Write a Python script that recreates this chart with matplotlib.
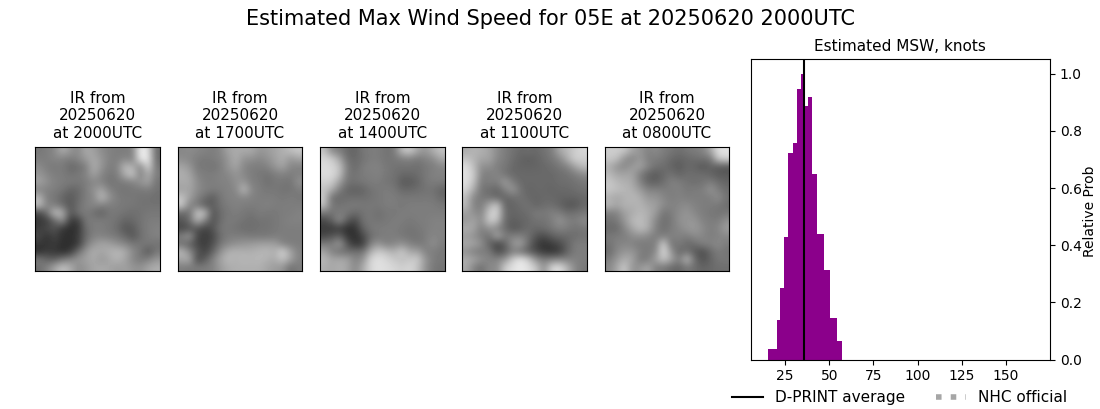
import matplotlib
matplotlib.use('Agg')
import numpy as np
import matplotlib.pyplot as plt

# histogram of estimated MSW
edges = [15.4, 20.5, 22.2, 24.4, 26.7, 29.5, 31.8, 34.0, 35.7, 38.0, 40.3, 43.1, 47.1, 50.5, 54.4, 57.3]
probs = [0.036, 0.138, 0.249, 0.428, 0.721, 0.756, 0.945, 1.0, 0.886, 0.917, 0.648, 0.438, 0.312, 0.145, 0.064]
dprint_avg = 35.7

dates = ['20250620'] * 5
times = ['2000UTC', '1700UTC', '1400UTC', '1100UTC', '0800UTC']
xticks = [25, 50, 75, 100, 125, 150]
yticks = [0.0, 0.2, 0.4, 0.6, 0.8, 1.0]

# coarse grey levels of each IR image, estimated by eye
ir_2000 = [
    [120, 125, 135, 175, 150, 135, 170, 160, 140, 130, 125, 125, 130, 240, 225, 105],
    [125, 125, 135, 130, 125, 135, 155, 170, 150, 130, 125, 135, 125, 240, 235, 105],
    [140, 125, 120, 125, 105, 110, 125, 175, 150, 125, 130, 185, 175, 130, 220, 115],
    [150, 135, 125, 125, 115, 120, 130, 165, 135, 120, 125, 175, 205, 125, 175, 125],
    [165, 145, 130, 125, 125, 120, 125, 135, 130, 115, 120, 125, 130, 150, 165, 115],
    [130, 130, 125, 120, 100, 105, 125, 145, 165, 130, 120, 115, 120, 120, 125, 115],
    [185, 125, 120, 100, 90, 105, 125, 135, 190, 150, 125, 120, 120, 115, 115, 110],
    [195, 135, 125, 110, 85, 110, 130, 135, 130, 125, 125, 120, 120, 115, 115, 115],
    [70, 110, 195, 180, 85, 115, 125, 110, 95, 120, 120, 115, 110, 115, 120, 120],
    [55, 60, 100, 150, 60, 60, 120, 125, 125, 120, 115, 100, 105, 115, 125, 125],
    [60, 75, 85, 55, 45, 50, 110, 125, 125, 120, 110, 85, 90, 115, 125, 130],
    [75, 50, 70, 50, 45, 60, 105, 130, 130, 125, 120, 105, 85, 110, 125, 130],
    [55, 50, 60, 45, 45, 55, 120, 150, 165, 160, 145, 135, 120, 120, 120, 115],
    [45, 60, 55, 45, 55, 110, 150, 175, 165, 175, 185, 175, 140, 120, 85, 120],
    [125, 100, 95, 120, 135, 150, 160, 170, 150, 165, 180, 165, 135, 120, 130, 150],
    [110, 130, 165, 195, 175, 140, 150, 165, 170, 165, 155, 160, 150, 145, 165, 175],
]
ir_1700 = [
    [135, 140, 135, 130, 125, 135, 165, 170, 170, 170, 150, 155, 165, 175, 190, 200],
    [140, 135, 125, 120, 125, 130, 150, 175, 145, 145, 135, 145, 160, 175, 150, 165],
    [165, 150, 120, 120, 115, 125, 150, 165, 135, 125, 125, 130, 150, 165, 135, 130],
    [175, 165, 130, 125, 125, 130, 135, 150, 135, 125, 120, 115, 125, 130, 125, 130],
    [170, 170, 140, 125, 125, 130, 130, 145, 150, 125, 125, 110, 120, 120, 115, 145],
    [160, 165, 140, 130, 125, 125, 130, 135, 190, 135, 125, 120, 120, 115, 115, 125],
    [195, 160, 130, 110, 90, 120, 130, 130, 135, 130, 125, 125, 125, 120, 125, 120],
    [205, 130, 120, 90, 95, 115, 125, 130, 125, 125, 125, 130, 125, 125, 125, 125],
    [105, 110, 205, 190, 80, 110, 120, 125, 120, 115, 125, 120, 120, 125, 125, 130],
    [85, 110, 180, 130, 80, 110, 125, 120, 115, 110, 115, 115, 120, 125, 130, 130],
    [70, 80, 85, 65, 85, 120, 120, 115, 110, 110, 115, 115, 120, 125, 125, 125],
    [130, 160, 70, 60, 70, 110, 125, 125, 125, 120, 120, 120, 125, 125, 125, 125],
    [110, 95, 70, 60, 80, 120, 135, 145, 150, 155, 160, 160, 160, 130, 125, 125],
    [185, 140, 90, 65, 100, 145, 175, 180, 175, 175, 180, 185, 175, 215, 165, 130],
    [165, 175, 70, 95, 130, 165, 185, 175, 185, 180, 185, 175, 170, 195, 165, 130],
    [125, 120, 125, 125, 130, 155, 170, 175, 175, 175, 175, 165, 155, 150, 110, 125],
]
ir_1400 = [
    [195, 135, 125, 105, 100, 120, 125, 125, 115, 120, 190, 205, 165, 150, 175, 195],
    [215, 205, 165, 110, 105, 115, 125, 125, 115, 120, 125, 130, 120, 130, 140, 170],
    [220, 215, 195, 125, 105, 125, 130, 130, 120, 115, 115, 115, 110, 120, 125, 135],
    [220, 220, 195, 120, 115, 125, 125, 130, 120, 115, 105, 105, 110, 120, 130, 130],
    [210, 205, 160, 115, 115, 120, 125, 125, 115, 115, 90, 90, 100, 120, 125, 125],
    [195, 175, 125, 100, 95, 100, 115, 120, 125, 120, 105, 105, 110, 115, 115, 100],
    [205, 110, 105, 110, 110, 110, 115, 120, 125, 125, 120, 120, 120, 120, 120, 105],
    [195, 120, 115, 120, 125, 120, 120, 120, 125, 125, 120, 125, 125, 125, 125, 120],
    [120, 115, 125, 120, 105, 115, 120, 110, 120, 120, 125, 125, 125, 125, 125, 125],
    [70, 95, 145, 90, 70, 115, 120, 115, 120, 125, 125, 120, 125, 125, 130, 130],
    [60, 55, 60, 45, 50, 100, 120, 125, 125, 125, 120, 115, 120, 125, 130, 130],
    [70, 85, 100, 55, 45, 70, 110, 120, 125, 125, 120, 115, 115, 125, 135, 130],
    [125, 125, 160, 85, 50, 60, 130, 150, 125, 135, 145, 130, 120, 125, 145, 125],
    [165, 130, 110, 110, 115, 115, 175, 205, 190, 175, 205, 165, 165, 130, 125, 120],
    [185, 165, 170, 165, 130, 145, 215, 225, 215, 200, 190, 200, 205, 150, 125, 120],
    [175, 165, 175, 165, 135, 170, 215, 225, 220, 215, 205, 215, 195, 145, 120, 115],
]
ir_1100 = [
    [170, 180, 175, 165, 140, 125, 115, 105, 110, 105, 115, 125, 170, 185, 205, 215],
    [195, 180, 165, 165, 135, 125, 110, 100, 95, 100, 110, 120, 135, 175, 210, 205],
    [225, 190, 140, 145, 125, 120, 105, 100, 100, 100, 105, 110, 120, 130, 165, 190],
    [225, 205, 130, 125, 135, 115, 105, 105, 105, 105, 105, 105, 110, 115, 125, 140],
    [225, 195, 120, 130, 125, 160, 125, 105, 105, 105, 105, 105, 110, 110, 115, 120],
    [215, 170, 115, 110, 100, 130, 155, 115, 100, 105, 105, 100, 105, 105, 110, 115],
    [190, 135, 120, 115, 100, 100, 110, 115, 105, 100, 105, 105, 100, 100, 100, 105],
    [190, 130, 125, 170, 205, 100, 100, 110, 115, 100, 110, 110, 100, 85, 85, 105],
    [160, 145, 130, 205, 215, 110, 100, 105, 110, 125, 120, 130, 125, 110, 115, 120],
    [150, 165, 140, 205, 195, 105, 95, 100, 105, 115, 115, 125, 150, 130, 125, 140],
    [175, 165, 125, 150, 130, 110, 85, 95, 110, 105, 110, 120, 130, 125, 115, 120],
    [155, 145, 125, 110, 175, 125, 130, 130, 115, 85, 75, 95, 105, 105, 110, 115],
    [170, 165, 145, 100, 65, 95, 150, 165, 110, 65, 50, 60, 75, 100, 125, 125],
    [145, 125, 120, 125, 75, 90, 125, 110, 90, 75, 55, 50, 60, 100, 125, 125],
    [175, 165, 145, 130, 135, 150, 205, 235, 205, 145, 125, 130, 135, 130, 130, 125],
    [170, 130, 110, 140, 135, 205, 225, 235, 225, 200, 140, 215, 225, 180, 135, 120],
]
ir_0800 = [
    [205, 205, 200, 165, 150, 130, 140, 125, 120, 110, 120, 125, 130, 165, 225, 225],
    [200, 195, 145, 130, 155, 125, 125, 120, 105, 100, 105, 110, 115, 115, 205, 215],
    [175, 145, 135, 155, 165, 135, 115, 110, 100, 90, 105, 100, 85, 100, 90, 85],
    [185, 165, 165, 165, 125, 100, 90, 105, 115, 100, 110, 110, 110, 100, 90, 90],
    [200, 185, 175, 170, 130, 100, 95, 110, 130, 125, 115, 110, 115, 125, 110, 100],
    [200, 190, 185, 175, 155, 130, 130, 125, 125, 130, 120, 125, 125, 150, 125, 110],
    [175, 165, 175, 185, 175, 150, 150, 135, 125, 130, 125, 125, 125, 125, 145, 115],
    [185, 165, 180, 175, 180, 165, 160, 140, 130, 135, 140, 130, 125, 125, 120, 110],
    [125, 130, 160, 170, 185, 175, 155, 115, 125, 140, 150, 135, 125, 120, 115, 120],
    [115, 120, 150, 185, 190, 175, 135, 110, 120, 145, 150, 150, 130, 125, 125, 145],
    [105, 105, 135, 165, 190, 175, 130, 110, 125, 135, 150, 155, 140, 125, 135, 160],
    [120, 125, 125, 140, 145, 135, 125, 125, 130, 130, 125, 140, 135, 125, 130, 135],
    [115, 130, 135, 130, 120, 125, 125, 215, 110, 125, 105, 110, 130, 130, 140, 125],
    [105, 135, 150, 150, 130, 120, 135, 225, 150, 100, 115, 90, 75, 105, 125, 115],
    [125, 150, 175, 165, 120, 125, 160, 200, 165, 125, 195, 110, 80, 100, 120, 120],
    [135, 165, 205, 145, 150, 170, 125, 120, 105, 100, 120, 110, 100, 105, 110, 110],
]
images = [ir_2000, ir_1700, ir_1400, ir_1100, ir_0800]

W, H = 1100.0, 409.0
panels_x = [(35, 160), (178, 302), (320, 445), (462, 587), (605, 729)]
panel_top, panel_bot = 147, 271


def px_axes(fig, x0, x1, top, bot):
    # axes from pixel box
    return fig.add_axes([x0 / W, 1 - bot / H, (x1 - x0) / W, (bot - top) / H])


fig = plt.figure(figsize=(11, 4.09), dpi=100)
fig.suptitle('Estimated Max Wind Speed for 05E at 20250620 2000UTC', fontsize=15, x=0.5, y=0.978)

for (x0, x1), img, d, t in zip(panels_x, images, dates, times):
    ax = px_axes(fig, x0, x1, panel_top, panel_bot)
    ax.imshow(np.array(img), cmap='gray', vmin=0, vmax=255, aspect='auto', interpolation='bicubic')
    ax.set_xticks([])
    ax.set_yticks([])
    ax.set_title('IR from\n{}\nat {}'.format(d, t), fontsize=11, pad=6.6)

ax = px_axes(fig, 750.5, 1050, 59.3, 359.6)
ax.stairs(probs, edges, fill=True, color='darkmagenta')
ax.axvline(dprint_avg, color='k', lw=1.5, label='D-PRINT average')
ax.plot([], [], color='gray', alpha=0.7, lw=4, ls=':', label='NHC official')
ax.set_xlim(5.4, 174.9)
ax.set_ylim(0, 1.05)
ax.set_xticks(xticks)
ax.set_yticks(yticks)
ax.yaxis.tick_right()
ax.yaxis.set_label_position('right')
ax.set_ylabel('Relative Prob', labelpad=1.2, y=0.494)
ax.set_title('Estimated MSW, knots', fontsize=11)
ax.legend(loc='upper center', bbox_to_anchor=(0.4985, -0.055), ncol=2, frameon=False, fontsize=11)

fig.savefig('out.png', dpi=100)
